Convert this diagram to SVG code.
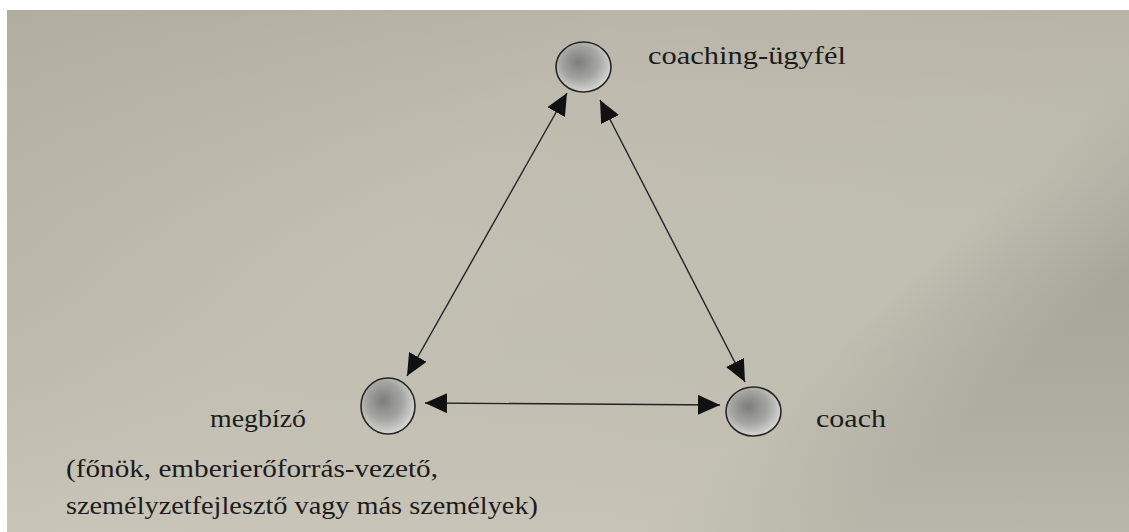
<svg xmlns="http://www.w3.org/2000/svg" width="1129" height="532" viewBox="0 0 1129 532">
<defs>
<linearGradient id="bg" x1="0" y1="0" x2="1" y2="0.5">
<stop offset="0" stop-color="#b5b0a4"/>
<stop offset="0.45" stop-color="#c3bfb3"/>
<stop offset="0.85" stop-color="#c0bdb1"/>
<stop offset="1" stop-color="#a6a69a"/>
</linearGradient>
<linearGradient id="bgv" x1="0" y1="0" x2="0" y2="1">
<stop offset="0" stop-color="#aca79b" stop-opacity="0.4"/>
<stop offset="0.5" stop-color="#bdb9ad" stop-opacity="0"/>
<stop offset="1" stop-color="#d0ccbf" stop-opacity="0.45"/>
</linearGradient>
<radialGradient id="ball" cx="0.45" cy="0.42" r="0.62" fx="0.4" fy="0.4">
<stop offset="0" stop-color="#7d7d7a"/>
<stop offset="0.55" stop-color="#a5a5a2"/>
<stop offset="1" stop-color="#dededa"/>
</radialGradient>
<marker id="ah" viewBox="0 0 22 20" refX="22" refY="10" markerWidth="22" markerHeight="20" markerUnits="userSpaceOnUse" orient="auto-start-reverse">
<path d="M0,0 L22,10 L0,20 z" fill="#111"/>
</marker>
</defs>
<style>
.node ellipse{fill:url(#ball);stroke:#262626;stroke-width:1.6}
.lbl{font-family:"Liberation Serif","DejaVu Serif",serif;font-size:26px;fill:#1c1c1c}
.conn path{fill:none;stroke:#222;stroke-width:1.4;marker-start:url(#ah);marker-end:url(#ah)}
</style>
<rect width="1129" height="532" fill="#ffffff"/>
<rect x="7" y="10" width="1122" height="522" fill="url(#bg)"/>
<rect x="7" y="10" width="1122" height="522" fill="url(#bgv)"/>
<g id="connectors" class="conn">
<path d="M567,93 L407,376"/>
<path d="M600,100 L745,382"/>
<path d="M425,403 L720,405"/>
</g>
<g id="node-ugyfel" class="node">
<ellipse cx="583.5" cy="67" rx="27.5" ry="25"/>
<text class="lbl" x="648" y="64" textLength="198" lengthAdjust="spacingAndGlyphs">coaching-ügyfél</text>
</g>
<g id="node-megbizo" class="node">
<ellipse cx="388" cy="406" rx="27" ry="28"/>
<text class="lbl" x="210" y="427" textLength="96" lengthAdjust="spacingAndGlyphs">megbízó</text>
<text class="lbl" x="66" y="477" textLength="372" lengthAdjust="spacingAndGlyphs">(főnök, emberierőforrás-vezető,</text>
<text class="lbl" x="66" y="514" textLength="472" lengthAdjust="spacingAndGlyphs">személyzetfejlesztő vagy más személyek)</text>
</g>
<g id="node-coach" class="node">
<ellipse cx="753.5" cy="411.5" rx="27.5" ry="24.5"/>
<text class="lbl" x="816" y="427" textLength="70" lengthAdjust="spacingAndGlyphs">coach</text>
</g>
</svg>
